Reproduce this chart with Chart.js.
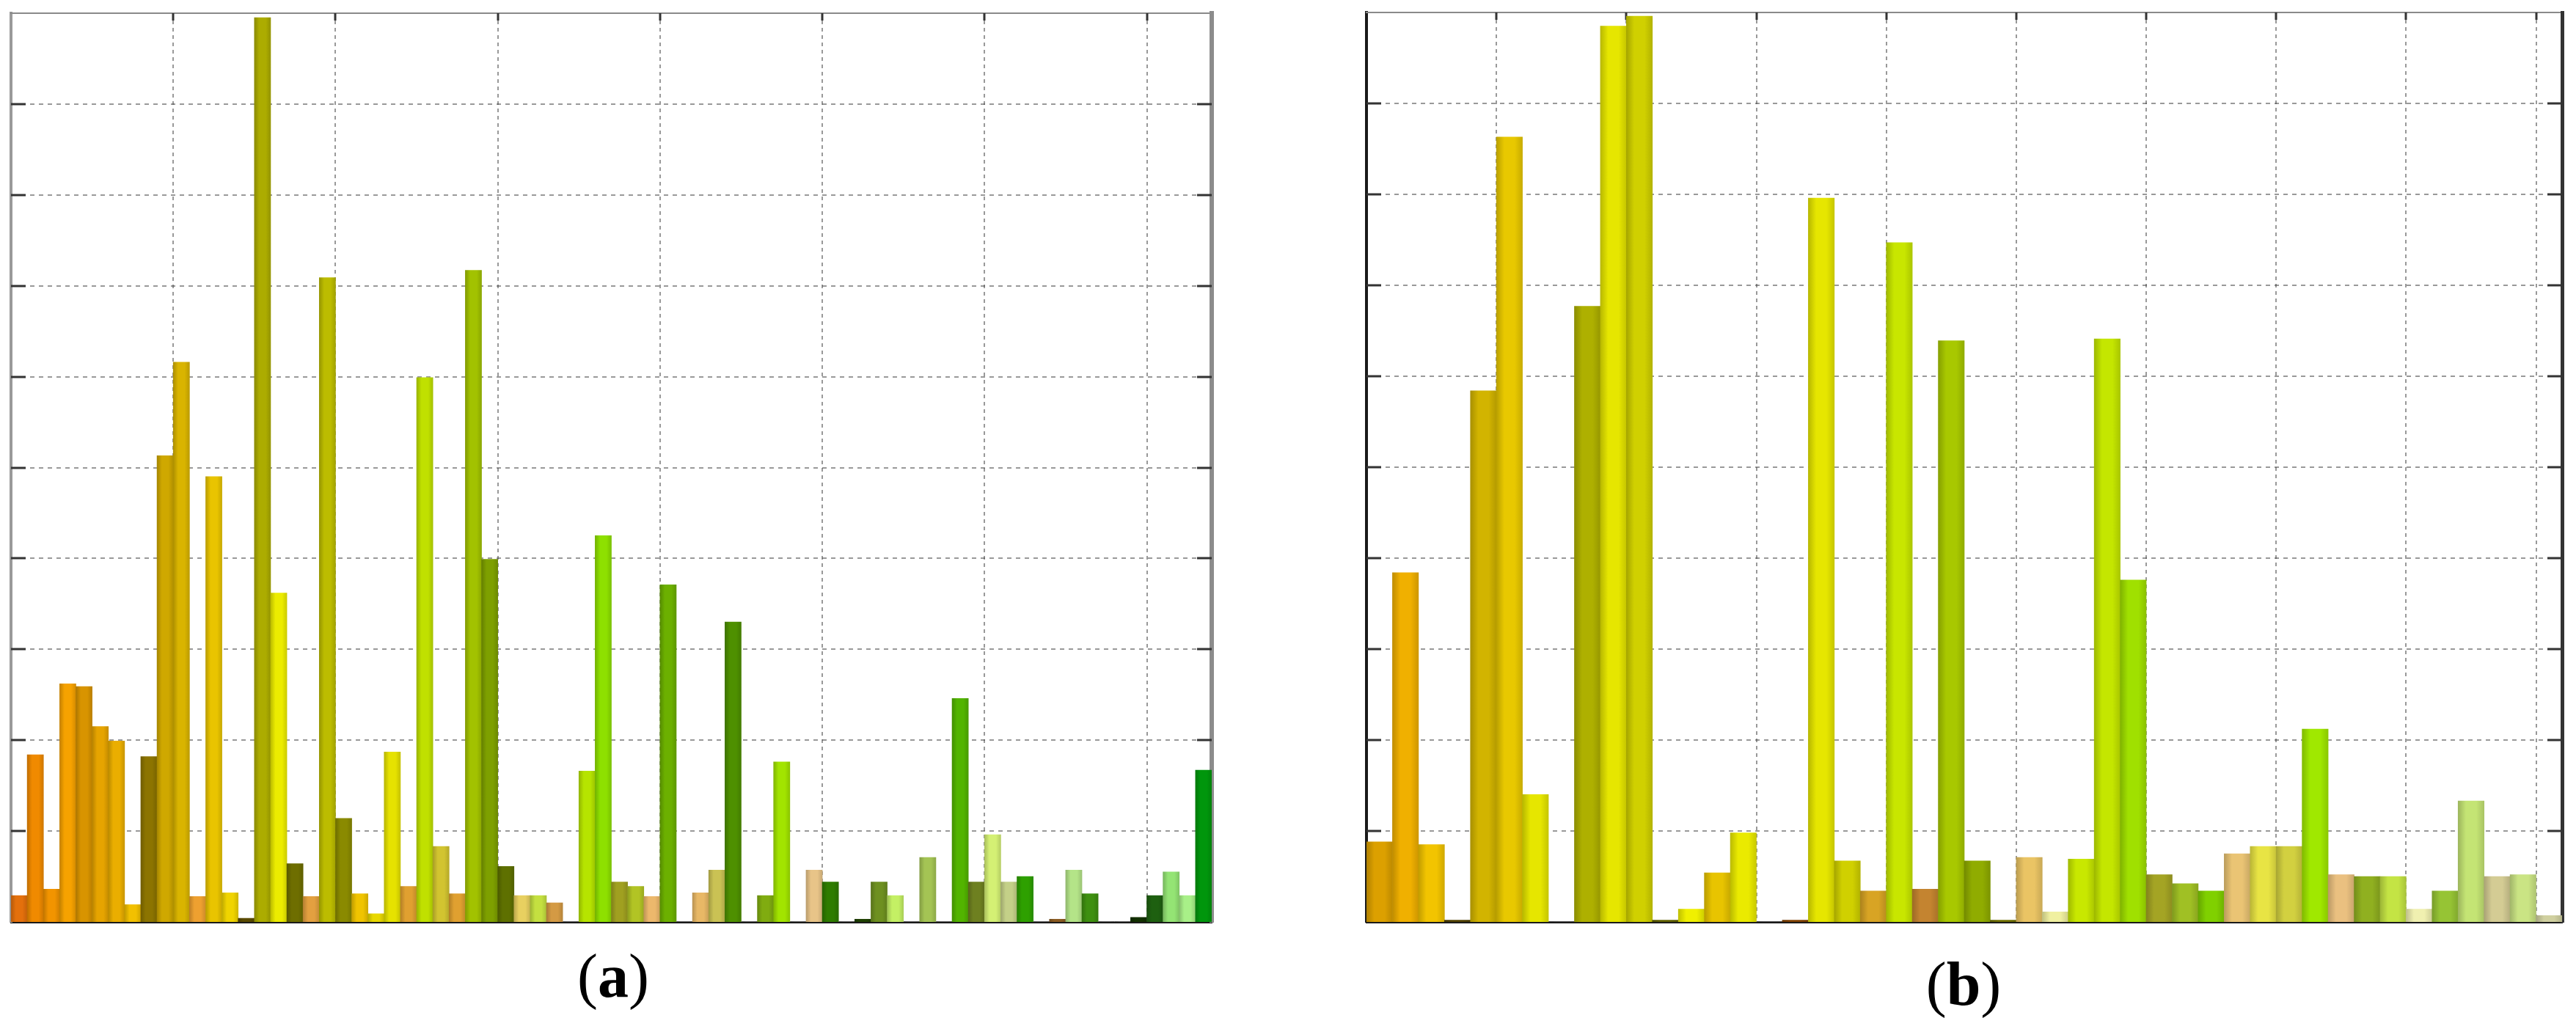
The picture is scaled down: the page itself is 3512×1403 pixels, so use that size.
<!DOCTYPE html>
<html>
<head>
<meta charset="utf-8">
<script src="https://cdn.jsdelivr.net/npm/chart.js@4.4.0/dist/chart.umd.min.js"></script>
<style>
  body { margin: 0; background: #fff; width: 3512px; height: 1403px; position: relative; overflow: hidden; }
  .box { position: absolute; }
  .lbl { position: absolute; font-family: "Liberation Serif", "DejaVu Serif", serif; font-size: 84px; line-height: 1; color: #000; transform: translateX(-50%); white-space: nowrap; }
  .lbl b { font-weight: bold; }
</style>
</head>
<body>
<div class="box" style="left:9px;top:12px;width:1649px;height:1251px"><canvas id="chartA"></canvas></div>
<div class="box" style="left:1857px;top:11px;width:1642px;height:1252px"><canvas id="chartB"></canvas></div>
<div class="lbl" style="left:836px;top:1289px">(<b>a</b>)</div>
<div class="lbl" style="left:2677px;top:1300px">(<b>b</b>)</div>

<script>
// panel (a): 74 bars, grid every 10 bars
const aValues = [0.29, 1.84, 0.36, 2.62, 2.59, 2.15, 1.99, 0.19, 1.82, 5.13,
                 6.16, 0.28, 4.90, 0.32, 0.04, 9.95, 3.62, 0.64, 0.28, 7.09,
                 1.14, 0.31, 0.09, 1.87, 0.39, 5.99, 0.83, 0.31, 7.17, 3.99,
                 0.61, 0.29, 0.29, 0.21, 0, 1.66, 4.25, 0.44, 0.39, 0.28,
                 3.71, 0, 0.32, 0.57, 3.30, 0, 0.29, 1.76, 0, 0.57,
                 0.44, 0, 0.03, 0.44, 0.29, 0, 0.71, 0, 2.46, 0.44,
                 0.96, 0.44, 0.50, 0, 0.03, 0.57, 0.31, 0, 0, 0.05,
                 0.29, 0.55, 0.29, 1.67]
const aColors = ['#e4700c', '#f08a00', '#f29400', '#f6a200', '#d89400', '#e6a400', '#eaae00', '#f2c000', '#8c7400', '#cfa800',
                 '#d9b400', '#eea030', '#e9c400', '#f0d400', '#5a4a00', '#acac00', '#ecec00', '#6e6e00', '#e3a040', '#bcbc00',
                 '#8a8a00', '#f0c400', '#e8d800', '#e6e200', '#e0a030', '#c0e000', '#d2c430', '#e0a030', '#a2c200', '#7ea000',
                 '#5e7000', '#e8d060', '#c4e040', '#d49a44', '#ffffff', '#b6e400', '#8ee000', '#a0a020', '#b2c424', '#ecb86c',
                 '#6cb000', '#ffffff', '#e8b866', '#cac254', '#4e9000', '#ffffff', '#80ac10', '#a2e400', '#ffffff', '#e8c488',
                 '#2e7c00', '#ffffff', '#1e4000', '#6e9020', '#c4f064', '#ffffff', '#a4c454', '#ffffff', '#52b400', '#6e8020',
                 '#d4f074', '#c4d088', '#2ea000', '#ffffff', '#8a5a20', '#b4e488', '#3e9010', '#ffffff', '#ffffff', '#123000',
                 '#1e6010', '#94e474', '#a8f088', '#00960c']

// panel (b): 46 bars, grid every 5 bars
const bValues = [0.88, 3.84, 0.85, 0.02, 5.84, 8.63, 1.40, 0, 6.77, 9.85,
                 9.96, 0.02, 0.14, 0.54, 0.98, 0, 0.02, 7.96, 0.67, 0.34,
                 7.47, 0.36, 6.39, 0.67, 0.02, 0.71, 0.11, 0.69, 6.41, 3.76,
                 0.52, 0.42, 0.34, 0.75, 0.83, 0.83, 2.12, 0.52, 0.50, 0.50,
                 0.14, 0.34, 1.33, 0.50, 0.52, 0.07]
const bColors = ['#dca000', '#f0b000', '#f2c400', '#504000', '#d2b400', '#e8c800', '#e6e600', '#ffffff', '#aeb000', '#e6e600',
                 '#d0d000', '#606000', '#f0f000', '#e8c400', '#eaea00', '#ffffff', '#804000', '#e6e600', '#d0d000', '#d8a424',
                 '#c8e600', '#c48430', '#a8c800', '#90ac00', '#707000', '#eac464', '#f0f0a0', '#c8e800', '#c4e600', '#a0e000',
                 '#a4a424', '#a0c024', '#80d000', '#eac474', '#e8e444', '#d2d040', '#a0e800', '#eac080', '#90b020', '#c4e444',
                 '#f0f0b0', '#96c434', '#c4e474', '#d4cc94', '#cae484', '#d0d0a0']

const yMax = 10

// darken a hex colour
function shade(hex, f) {
  const n = parseInt(hex.slice(1), 16)
  const r = Math.round(((n >> 16) & 255) * f), g = Math.round(((n >> 8) & 255) * f), b = Math.round((n & 255) * f)
  return 'rgb(' + r + ',' + g + ',' + b + ')'
}

// little tick marks pointing into the plot (left, right, top)
const innerTicks = {
  id: 'innerTicks',
  beforeDatasetsDraw(chart, args, opts) {
    const { ctx, chartArea: a, scales: { x, y } } = chart
    ctx.save()
    ctx.strokeStyle = opts.color
    ctx.lineWidth = 3
    ctx.beginPath()
    y.ticks.forEach(t => {
      const py = Math.round(y.getPixelForValue(t.value))
      ctx.moveTo(a.left, py); ctx.lineTo(a.left + 20, py)
      ctx.moveTo(a.right, py); ctx.lineTo(a.right - 20, py)
    })
    x.ticks.forEach(t => {
      const px = Math.round(x.getPixelForValue(t.value))
      ctx.moveTo(px, a.top); ctx.lineTo(px, a.top + 10)
    })
    ctx.stroke()
    ctx.restore()
  }
}

function makeChart(id, values, colors, step, edge) {
  const n = values.length
  const points = values.map((v, i) => ({ x: i + 0.5, y: v }))
  const hidden = { display: false }

  // shaded fill like the 3d bars: darker at both sides
  const barFill = c => {
    const col = colors[c.dataIndex]
    const chart = c.chart
    if (!chart.chartArea || !chart.scales.x) return col
    const xs = chart.scales.x
    const l = xs.getPixelForValue(c.dataIndex), r = xs.getPixelForValue(c.dataIndex + 1)
    const g = chart.ctx.createLinearGradient(l, 0, r, 0)
    g.addColorStop(0, shade(col, 0.8))
    g.addColorStop(0.3, col)
    g.addColorStop(0.7, col)
    g.addColorStop(1, shade(col, 0.86))
    return g
  }

  return new Chart(document.getElementById(id), {
    type: 'bar',
    data: {
      datasets: [{
        data: points,
        backgroundColor: barFill,
        borderWidth: 0,
        barPercentage: 1,
        categoryPercentage: 1
      }]
    },
    options: {
      responsive: true,
      maintainAspectRatio: false,
      animation: false,
      devicePixelRatio: 1,
      layout: { padding: 6 },
      plugins: { legend: hidden, tooltip: { enabled: false }, innerTicks: { color: '#333' } },
      scales: {
        x: {
          type: 'linear', min: 0, max: n, offset: false,
          ticks: { display: false, stepSize: step },
          afterBuildTicks: s => { s.ticks = s.ticks.filter(t => t.value > 0 && t.value < n && t.value % step === 0) },
          grid: { offset: false, drawTicks: false, color: 'rgba(70,70,70,0.55)', lineWidth: 2 },
          border: { display: true, color: '#1a1a1a', width: 3, dash: [5, 5] }
        },
        y: {
          min: 0, max: yMax,
          ticks: { display: false, stepSize: 1 },
          afterBuildTicks: s => { s.ticks = s.ticks.filter(t => t.value > 0 && t.value < yMax) },
          grid: { drawTicks: false, color: 'rgba(70,70,70,0.55)', lineWidth: 2 },
          border: { display: true, color: edge.left, width: edge.leftW, dash: [6, 6] }
        },
        x2: {
          type: 'linear', position: 'top', min: 0, max: n, offset: false,
          ticks: hidden, grid: { display: false, drawTicks: false },
          border: { display: true, color: '#8a8a8a', width: 2 }
        },
        y2: {
          type: 'linear', position: 'right', min: 0, max: yMax,
          ticks: hidden, grid: { display: false, drawTicks: false },
          border: { display: true, color: edge.right, width: edge.rightW }
        }
      }
    },
    plugins: [innerTicks]
  })
}

const chartA = makeChart('chartA', aValues, aColors, 10, { left: '#9a9a9a', leftW: 4, right: '#8c8c8c', rightW: 6 })
const chartB = makeChart('chartB', bValues, bColors, 5, { left: '#1a1a1a', leftW: 4, right: '#333333', rightW: 5 })
// redraw once the chart areas exist so the gradients get built
chartA.update('none')
chartB.update('none')
</script>
</body>
</html>
